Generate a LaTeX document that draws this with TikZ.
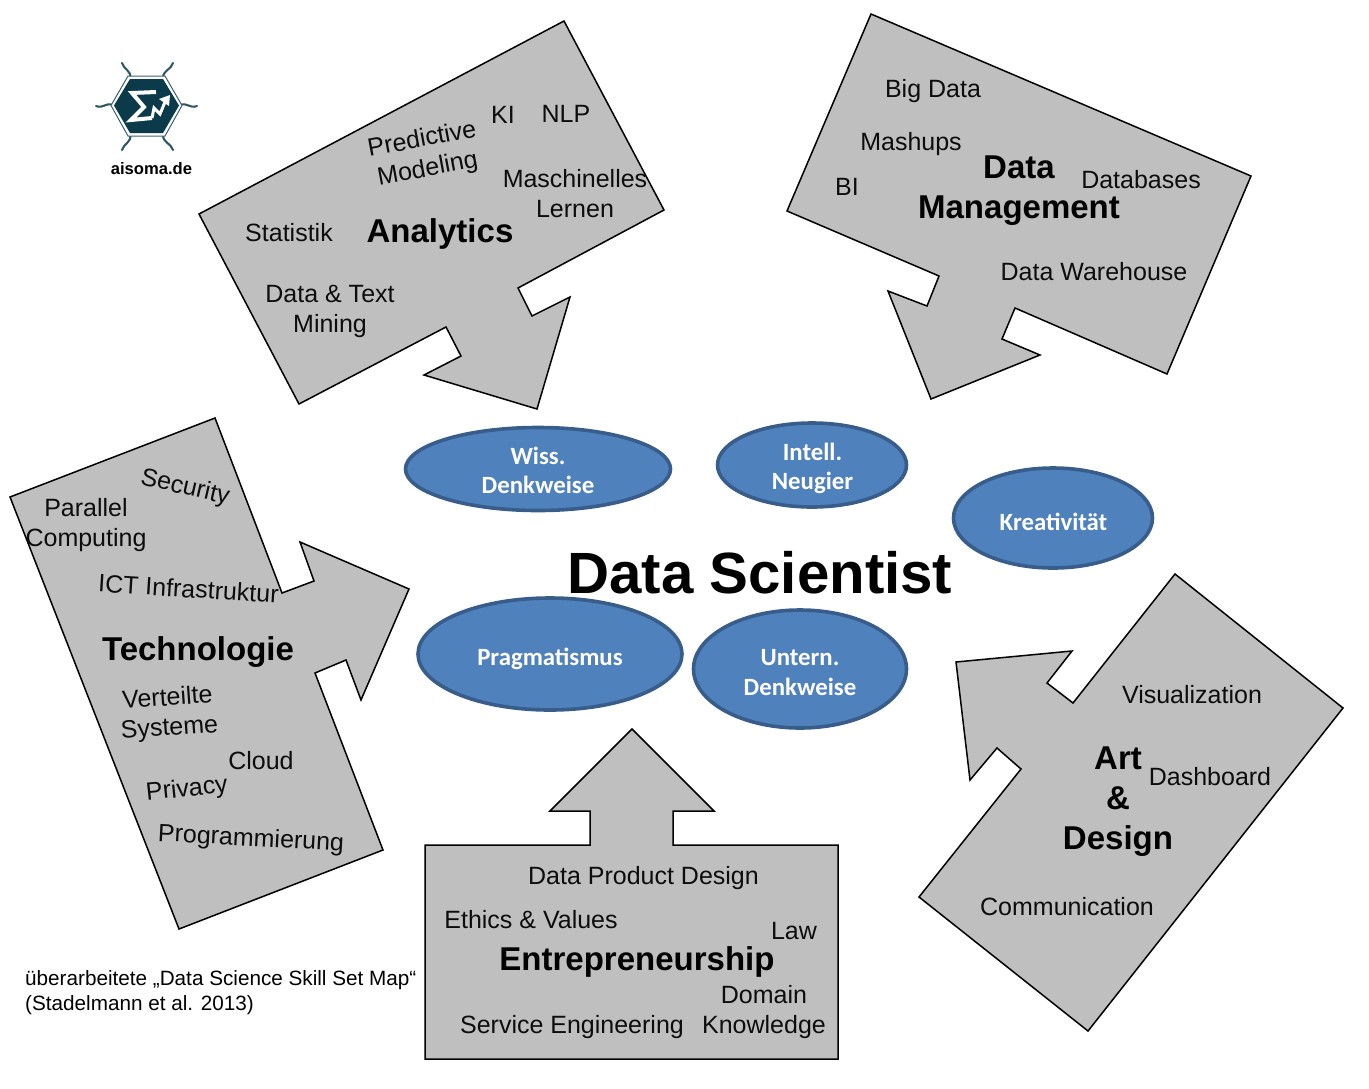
\documentclass[tikz,border=0pt]{standalone}
\usepackage{fontspec}
\setmainfont{Liberation Sans}
\newfontfamily\carlitofont{Carlito}
\usetikzlibrary{shapes.geometric}
\definecolor{gbox}{HTML}{BFBFBF}
\definecolor{efill}{HTML}{4F81BD}
\definecolor{edraw}{HTML}{385D8A}
\definecolor{logoteal}{HTML}{0B3A4A}
\tikzset{
 arrowshape/.style={draw=black,fill=gbox,line width=1.5pt,line join=miter},
 skill/.style={font=\fontsize{25}{30}\selectfont,align=center,inner sep=0pt,text=black!95},
 head/.style={font=\fontsize{33}{40}\bfseries\selectfont,align=center,inner sep=0pt},
 mind/.style={ellipse,draw=edraw,fill=efill,line width=3.6pt,inner sep=0pt},
 mindtext/.style={inner sep=0pt,text=white,align=center,font=\carlitofont\fontsize{24.8}{29.5}\bfseries\selectfont},
 tent/.style={draw=logoteal!85,line width=2.1pt,line cap=round}
}
\begin{document}
\begin{tikzpicture}[x=1pt,y=-1pt]
\useasboundingbox (0,0) rectangle (1369,1088);
% Arrows
\draw[arrowshape] (564,21)--(664,210)--(518,288)--(532,316)--(570,297)--(537,409)--(424,375)--(461,356)--(446,327)--(299,404)--(199,214)--cycle;
\draw[arrowshape] (871,14)--(1251,176)--(1167,374)--(1015,308)--(1002,339)--(1040,355)--(931,399)--(888,291)--(927,306)--(939,276)--(787,211)--cycle;
\draw[arrowshape] (215,418)--(282,593)--(314,581)--(300,542)--(409,589)--(361,700)--(346,660)--(315,673)--(383,850)--(179,929)--(10,497)--cycle;
\draw[arrowshape] (425,845)--(590,845)--(590,811)--(550,811)--(632,729)--(714,811)--(673,811)--(673,845)--(838,845)--(838,1059)--(425,1059)--cycle;
\draw[arrowshape] (1175,574)--(1343,708)--(1088,1031)--(919,897)--(1021,769)--(997,748)--(970,780)--(956,662)--(1072,651)--(1047,683)--(1073,703)--cycle;
% Ellipses
\node[mind,minimum width=265pt,minimum height=83pt] (wiss) at (538,469) {};
\node[mind,minimum width=189pt,minimum height=84pt] (neug) at (812,465) {};
\node[mind,minimum width=199pt,minimum height=100pt] (krea) at (1053,518) {};
\node[mind,minimum width=264pt,minimum height=112pt] (prag) at (550,654) {};
\node[mind,minimum width=213pt,minimum height=118pt] (untern) at (800,669) {};
\node[mindtext] (wisst) at (538,470.5) {Wiss.\\Denkweise};
\node[mindtext] (neugt) at (812.5,468.5) {Intell.\\Neugier};
\node[mindtext] (kreat) at (1053.5,521.5) {Kreativität};
\node[mindtext] (pragt) at (550,659) {Pragmatismus};
\node[mindtext] (unternt) at (800,672.5) {Untern.\\Denkweise};
% Title
\node[inner sep=0pt,font=\fontsize{58.2}{66}\bfseries\selectfont] (title) at (760,573) {Data Scientist};
% Analytics
\node[head] (h1) at (440,234) {Analytics};
\node[skill,rotate=10.5] (a1) at (425,155) {Predictive\\Modeling};
\node[skill] (a2) at (503,115) {KI};
\node[skill] (a3) at (566,114) {NLP};
\node[skill] (a4) at (575,194) {Maschinelles\\Lernen};
\node[skill] (a5) at (289,233) {Statistik};
\node[skill] (a6) at (330,311) {Data \& Text\\Mining};
% Data Management
\node[head] (h2) at (1019,191) {Data\\Management};
\node[skill] (d1) at (933,91) {Big Data};
\node[skill] (d2) at (911,144) {Mashups};
\node[skill] (d3) at (847,187) {BI};
\node[skill] (d4) at (1141,180) {Databases};
\node[skill] (d5) at (1094,272) {Data Warehouse};
% Technologie
\node[head] (h3) at (198,652) {Technologie};
\node[skill,rotate=-13] (t1) at (185,488) {Security};
\node[skill] (t2) at (86,525.5) {Parallel\\Computing};
\node[skill,rotate=-3.5] (t3) at (188.5,588.5) {ICT Infrastruktur};
\node[skill,rotate=4] (t4) at (168.5,714) {Verteilte\\Systeme};
\node[skill] (t5) at (261,761) {Cloud};
\node[skill,rotate=6] (t6) at (187,790) {Privacy};
\node[skill,rotate=-3] (t7) at (251,839.5) {Programmierung};
% Entrepreneurship
\node[head] (h4) at (637,962) {Entrepreneurship};
\node[skill] (e1) at (643.5,878) {Data Product Design};
\node[skill] (e2) at (531,919.5) {Ethics \& Values};
\node[skill] (e3) at (794,931) {Law};
\node[skill] (e4) at (572,1027) {Service Engineering};
\node[skill] (e5) at (764,1012) {Domain\\Knowledge};
% Art & Design
\node[head] (h5) at (1118,801.5) {Art\\\&\\Design};
\node[skill] (r1) at (1192,695) {Visualization};
\node[skill] (r2) at (1210,777) {Dashboard};
\node[skill] (r3) at (1067,907) {Communication};
% Source
\node[anchor=west,inner sep=0pt,align=left,font=\fontsize{20.7}{25}\selectfont] (src) at (25,993) {überarbeitete „Data Science Skill Set Map“\\(Stadelmann et al. 2013)};
% Logo
\draw[tent] (113,105) .. controls (106,102) and (103,109) .. (96,106);
\draw[tent] (180,105) .. controls (187,102) and (190,109) .. (197,106);
\draw[tent] (130,78) .. controls (132,71) and (124,70) .. (122,63);
\draw[tent] (163,78) .. controls (163,70) and (171,70) .. (173,63);
\draw[tent] (130,135) .. controls (132,142) and (124,143) .. (122,150);
\draw[tent] (163,135) .. controls (163,143) and (171,143) .. (173,150);
\draw[draw=logoteal!80,fill=white,line width=1pt] (128,76)--(165,76)--(182,105.5)--(165,136)--(128,136)--(111,105.5)--cycle;
\fill[logoteal] (130,79)--(163,79)--(179,105.5)--(163,133)--(130,133)--(114,105.5)--cycle;
\draw[white,line width=4pt,line join=miter] (156,92)--(132,93)--(144,107)--(131,120)--(152,118);
\draw[white,line width=3pt,line join=miter] (152,118)--(154,108)--(160,114)--(165,102);
\fill[white] (170,95)--(159,99)--(169,106)--cycle;
\node[inner sep=0pt,font=\fontsize{16.6}{19}\bfseries\selectfont] (logotext) at (151.5,169) {aisoma.de};
\end{tikzpicture}
\end{document}
